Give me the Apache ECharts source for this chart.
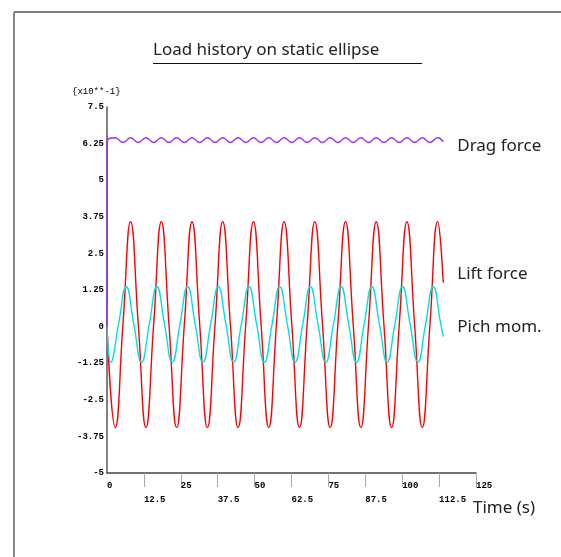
<!DOCTYPE html>
<html>
<head>
<meta charset="utf-8">
<script src="https://cdn.jsdelivr.net/npm/echarts@6/dist/echarts.min.js"></script>
<style>
  html, body { margin: 0; padding: 0; background: #ffffff; }
  #main { width: 561px; height: 557px; }
</style>
</head>
<body>
<div id="main"></div>
<script>
// tick labels
var xTicks = [0, 12.5, 25, 37.5, 50, 62.5, 75, 87.5, 100, 112.5, 125];
var yTicks = [-5, -3.75, -2.5, -1.25, 0, 1.25, 2.5, 3.75, 5, 6.25, 7.5];

// Drag force (x10**-1), read at peaks / troughs
var dragT = [0, 0.05, 2.8, 5.4, 8.0, 10.6, 13.2, 15.8, 18.4, 21.0, 23.6, 26.2, 28.8, 31.4, 34.0, 36.6, 39.2, 41.8, 44.4, 47.0, 49.6, 52.2, 54.8, 57.4, 60.0, 62.6, 65.2, 67.8, 70.4, 73.0, 75.6, 78.2, 80.8, 83.4, 86.0, 88.6, 91.2, 93.8, 96.4, 99.0, 101.6, 104.2, 106.8, 109.4, 112.0, 113.9];
var dragV = [0, 6.31, 6.45, 6.29, 6.45, 6.29, 6.45, 6.29, 6.45, 6.29, 6.45, 6.29, 6.45, 6.29, 6.45, 6.29, 6.45, 6.29, 6.45, 6.29, 6.45, 6.29, 6.45, 6.29, 6.45, 6.29, 6.45, 6.29, 6.45, 6.29, 6.45, 6.29, 6.45, 6.29, 6.45, 6.29, 6.45, 6.29, 6.45, 6.29, 6.45, 6.29, 6.45, 6.29, 6.45, 6.31];

// Lift force, read at troughs / crossings / peaks
var liftT = [0, 2.8, 5.4, 8.0, 10.6, 13.2, 15.8, 18.4, 21.0, 23.6, 26.2, 28.8, 31.4, 34.0, 36.6, 39.2, 41.8, 44.4, 47.0, 49.6, 52.2, 54.8, 57.4, 60.0, 62.6, 65.2, 67.8, 70.4, 73.0, 75.6, 78.2, 80.8, 83.4, 86.0, 88.6, 91.2, 93.8, 96.4, 99.0, 101.6, 104.2, 106.8, 109.4, 112.0, 113.9];
var liftV = [0, -3.45, 0.07, 3.58, 0.07, -3.45, 0.07, 3.58, 0.07, -3.45, 0.07, 3.58, 0.07, -3.45, 0.07, 3.58, 0.07, -3.45, 0.07, 3.58, 0.07, -3.45, 0.07, 3.58, 0.07, -3.45, 0.07, 3.58, 0.07, -3.45, 0.07, 3.58, 0.07, -3.45, 0.07, 3.58, 0.07, -3.45, 0.07, 3.58, 0.07, -3.45, 0.07, 3.58, 1.5];

// Pitch moment
var pitchT = [0, 1.3, 3.9, 6.5, 9.1, 11.7, 14.3, 16.9, 19.5, 22.1, 24.7, 27.3, 29.9, 32.5, 35.1, 37.7, 40.3, 42.9, 45.5, 48.1, 50.7, 53.3, 55.9, 58.5, 61.1, 63.7, 66.3, 68.9, 71.5, 74.1, 76.7, 79.3, 81.9, 84.5, 87.1, 89.7, 92.3, 94.9, 97.5, 100.1, 102.7, 105.3, 107.9, 110.5, 113.1, 113.9];
var pitchV = [0, -1.22, 0.07, 1.36, 0.07, -1.22, 0.07, 1.36, 0.07, -1.22, 0.07, 1.36, 0.07, -1.22, 0.07, 1.36, 0.07, -1.22, 0.07, 1.36, 0.07, -1.22, 0.07, 1.36, 0.07, -1.22, 0.07, 1.36, 0.07, -1.22, 0.07, 1.36, 0.07, -1.22, 0.07, 1.36, 0.07, -1.22, 0.07, 1.36, 0.07, -1.22, 0.07, 1.36, 0.07, -0.34];

function zip(t, v) {
  var out = [];
  for (var i = 0; i < t.length; i++) out.push([t[i], v[i]]);
  return out;
}

var chart = echarts.init(document.getElementById('main'));
var labelFont = 'Noto Sans';

function curve(name, t, v, color, offset) {
  return {
    name: name,
    type: 'line',
    data: zip(t, v),
    smooth: 0.5,
    showSymbol: false,
    lineStyle: { color: color, width: 1.4 },
    endLabel: {
      show: true,
      formatter: name,
      offset: offset,
      color: '#222',
      fontFamily: labelFont,
      fontSize: 17
    }
  };
}

var option = {
  animation: false,
  backgroundColor: '#ffffff',
  title: {
    text: 'Load history on static ellipse',
    left: 148,
    top: 37,
    textStyle: { fontFamily: labelFont, fontSize: 17, fontWeight: 'normal', color: '#222' }
  },
  grid: { left: 107, top: 107, right: 85, bottom: 84 },
  xAxis: {
    type: 'value',
    min: 0,
    max: 125,
    interval: 12.5,
    axisLine: { onZero: false, lineStyle: { color: '#444', width: 1.5 } },
    axisTick: { show: true, length: 14, customValues: xTicks.slice(1), lineStyle: { color: '#aaa' } },
    splitLine: { show: false },
    axisLabel: {
      margin: 6,
      align: 'left',
      fontFamily: 'Liberation Mono',
      fontSize: 9,
      fontWeight: 'bold',
      lineHeight: 14,
      color: '#000',
      formatter: function (val) {
        var i = xTicks.indexOf(val);
        if (i < 0) return '';
        return (i % 2 ? '\n' : '') + xTicks[i];
      }
    }
  },
  yAxis: {
    type: 'value',
    min: -5,
    max: 7.5,
    interval: 1.25,
    axisLine: { show: true, onZero: false, lineStyle: { color: '#555', width: 1.5 } },
    axisTick: { show: false },
    splitLine: { show: false },
    axisLabel: {
      margin: 3,
      fontFamily: 'Liberation Mono',
      fontSize: 9,
      fontWeight: 'bold',
      color: '#000',
      formatter: function (val) {
        var i = yTicks.indexOf(val);
        return i < 0 ? '' : String(yTicks[i]);
      }
    }
  },
  series: [
    curve('Drag force', dragT, dragV, '#9030f0', [6, 4]),
    curve('Lift force', liftT, liftV, '#ff0000', [6, -9]),
    curve('Pich mom.', pitchT, pitchV, '#00e0e0', [6, -9])
  ],
  graphic: [
    // frame
    { type: 'line', shape: { x1: 14, y1: 12, x2: 561, y2: 12 }, style: { stroke: '#000', lineWidth: 1.2 } },
    { type: 'line', shape: { x1: 14, y1: 12, x2: 14, y2: 557 }, style: { stroke: '#888', lineWidth: 2 } },
    // title underline
    { type: 'line', shape: { x1: 153, y1: 63.5, x2: 422, y2: 63.5 }, style: { stroke: '#111', lineWidth: 1.2 } },
    { type: 'text', left: 72, top: 87, style: { text: '{x10**-1}', font: '9px "Liberation Mono"', fill: '#000' } },
    { type: 'text', left: 473, top: 500, style: { text: 'Time (s)', font: '17px "Noto Sans"', fill: '#222' } }
  ]
};

chart.setOption(option);
</script>
</body>
</html>
